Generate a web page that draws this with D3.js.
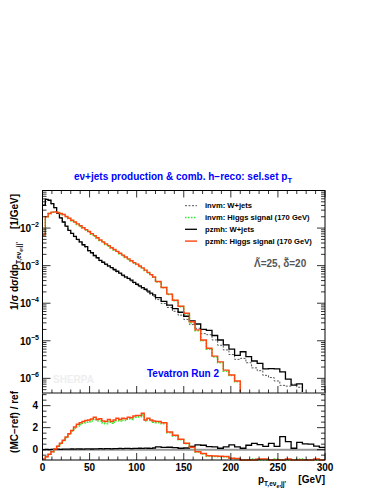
<!DOCTYPE html>
<html><head><meta charset="utf-8">
<script src="https://cdn.jsdelivr.net/npm/d3@7"></script>
<style>html,body{margin:0;padding:0;background:#fff;} svg{display:block;font-family:"Liberation Sans",Arial,Helvetica,sans-serif;font-weight:bold;}</style>
</head><body><svg id="c" width="382" height="494"></svg>
<script>
// ---- data (bin edges in GeV) ----
const binEdges = [0,3,6,9,12,15,18,21,24,27,30,33,36,39,42,45,48,51,54,57,60,63,66,69,72,75,78,81,84,87,90,93,96,99,102,105,108,111,114,117,120,
  126,132,138,144,150,156,162,168,174,180,186,192,198,204,210,216,222,228,234,240,246,252,258,264,270,276,282,288,294,300];

const invmWjets = [4.0e-2,5.7e-2,5.5e-2,4.4e-2,3.45e-2,2.5e-2,1.85e-2,1.43e-2,1.1e-2,8.6e-3,7.1e-3,5.9e-3,4.9e-3,4.2e-3,3.55e-3,3.1e-3,2.45e-3,2.15e-3,1.82e-3,1.58e-3,
  1.35e-3,1.2e-3,1.07e-3,9.5e-4,8.6e-4,7.6e-4,6.8e-4,6.1e-4,5.4e-4,4.8e-4,4.4e-4,3.9e-4,3.45e-4,3.05e-4,2.75e-4,2.45e-4,2.2e-4,1.95e-4,1.72e-4,1.52e-4,
  1.25e-4,9.8e-5,7.7e-5,6.1e-5,4.8e-5,3.7e-5,2.7e-5,2.15e-5,1.55e-5,1.45e-5,1.05e-5,7.6e-6,5.7e-6,4.3e-6,3.2e-6,3.4e-6,2.6e-6,1.9e-6,1.6e-6,1.2e-6,
  1.05e-6,8.5e-7,6.5e-7,6.2e-7,7.0e-7,5.8e-7,0,0,0,0];

const invmHiggs = [6.4e-3,2.0e-2,2.42e-2,2.64e-2,2.68e-2,2.58e-2,2.43e-2,2.26e-2,2.0e-2,1.78e-2,1.58e-2,1.41e-2,1.25e-2,1.11e-2,9.9e-3,8.8e-3,7.8e-3,6.9e-3,6.1e-3,5.3e-3,
  4.65e-3,4.15e-3,3.65e-3,3.3e-3,2.9e-3,2.6e-3,2.33e-3,2.07e-3,1.84e-3,1.65e-3,1.46e-3,1.31e-3,1.16e-3,1.07e-3,9.5e-4,8.4e-4,7.4e-4,6.4e-4,5.6e-4,4.9e-4,
  3.7e-4,2.6e-4,1.72e-4,1.17e-4,8.1e-5,5.2e-5,3.0e-5,1.85e-5,1.0e-5,6.0e-6,3.7e-6,2.6e-6,1.55e-6,1.2e-6,8.2e-7,0,0,0,0,0,
  0,0,0,0,0,0,0,0,0,0];

const pzmhWjets = [4.1e-2,5.8e-2,5.5e-2,4.5e-2,3.5e-2,2.5e-2,1.86e-2,1.45e-2,1.12e-2,8.7e-3,7.2e-3,6.0e-3,5.0e-3,4.3e-3,3.6e-3,3.2e-3,2.5e-3,2.2e-3,1.86e-3,1.62e-3,
  1.38e-3,1.23e-3,1.1e-3,9.8e-4,8.9e-4,7.9e-4,7.1e-4,6.3e-4,5.6e-4,5.0e-4,4.6e-4,4.1e-4,3.6e-4,3.2e-4,2.9e-4,2.6e-4,2.35e-4,2.1e-4,1.86e-4,1.66e-4,
  1.41e-4,1.12e-4,8.9e-5,7.2e-5,5.75e-5,4.5e-5,3.4e-5,2.8e-5,2.0e-5,1.9e-5,1.38e-5,1.05e-5,7.8e-6,6.0e-6,4.1e-6,5.1e-6,3.8e-6,2.9e-6,2.5e-6,1.78e-6,
  1.82e-6,1.78e-6,1.48e-6,9.5e-7,6.6e-7,7.1e-7,0,0,0,0];

const pzmhHiggs = [6.5e-3,2.0e-2,2.45e-2,2.66e-2,2.69e-2,2.6e-2,2.45e-2,2.29e-2,2.04e-2,1.82e-2,1.62e-2,1.45e-2,1.29e-2,1.15e-2,1.02e-2,9.1e-3,8.1e-3,7.1e-3,6.3e-3,5.5e-3,
  4.8e-3,4.3e-3,3.8e-3,3.4e-3,3.0e-3,2.7e-3,2.4e-3,2.14e-3,1.9e-3,1.7e-3,1.51e-3,1.35e-3,1.2e-3,1.1e-3,9.8e-4,8.7e-4,7.6e-4,6.6e-4,5.75e-4,5.0e-4,
  3.8e-4,2.63e-4,1.74e-4,1.2e-4,8.3e-5,5.4e-5,3.2e-5,1.95e-5,1.05e-5,6.3e-6,3.9e-6,2.75e-6,1.66e-6,1.23e-6,8.5e-7,0,0,0,0,0,
  0,0,0,0,0,0,0,0,0,0];

// ratio panel: (MC-ref)/ref, ref = invm W+jets
const ratioInvmHiggs = [-0.85,-0.65,-0.42,-0.2,0.05,0.3,0.55,0.82,1.1,1.4,1.7,1.95,2.15,2.3,2.4,2.5,2.55,2.6,2.75,2.6,
  2.6,2.45,2.35,2.55,2.4,2.5,2.65,2.6,2.7,2.65,2.8,2.75,2.9,2.95,3.0,3.15,2.6,2.75,2.6,2.5,
  2.45,2.35,1.55,1.25,0.9,0.55,0.2,-0.2,-0.4,-0.6,-0.62,-0.65,-0.65,-0.8,-0.82,-1,-1,-0.85,-1,-1,
  -1,-0.85,-1,-1,-1,-0.85,-1,-1,-1,-1];
const ratioPzmhWjets = [0.0,0.02,0.0,0.03,0.02,0.04,0.03,0.05,0.04,0.05,0.06,0.05,0.07,0.06,0.05,0.08,0.07,0.06,0.08,0.07,
  0.09,0.08,0.1,0.09,0.08,0.1,0.09,0.11,0.1,0.12,0.11,0.1,0.12,0.11,0.13,0.12,0.14,0.13,0.12,0.15,
  0.25,0.2,0.22,0.18,0.13,0.15,0.3,0.43,0.4,0.27,0.25,0.13,0.25,0.43,0.25,0.13,0.4,0.58,0.45,0.3,
  0.58,0.3,1.18,0.73,0.13,0.67,0.52,0.5,0.33,0.2];
const ratioPzmhHiggs = [-0.85,-0.65,-0.42,-0.2,0.05,0.3,0.58,0.85,1.15,1.45,1.75,2.05,2.3,2.45,2.55,2.65,2.7,2.78,2.95,2.75,
  2.8,2.6,2.55,2.75,2.55,2.7,2.85,2.75,2.85,2.8,2.95,2.9,3.05,3.1,3.1,3.3,2.7,2.85,2.7,2.6,
  2.55,2.45,1.6,1.3,0.95,0.58,0.22,-0.18,-0.35,-0.55,-0.58,-0.6,-0.62,-0.78,-0.8,-1,-1,-1,-0.85,-0.85,
  -1,-1,-1,-0.85,-1,-1,-1,-1,-0.85,-1];

const xTickLabels = [0,50,100,150,200,250,300];
const yTickExps = [-2,-3,-4,-5,-6];
const ratioTickLabels = [0,2,4];
const legendLabels = ["invm: W+jets","invm: Higgs signal (170 GeV)","pzmh: W+jets","pzmh: Higgs signal (170 GeV)"];

// ---- layout ----
const svg = d3.select("#c");
const L=42.5, R=325, T=190.5, MB=393, RB=460;
const x = d3.scaleLinear().domain([0,300]).range([L,R]);
const y = d3.scaleLog().domain([Math.pow(10,-6.39),0.1]).range([MB,T]).clamp(true);
const yr = d3.scaleLinear().domain([-0.94,5.15]).range([RB,MB]).clamp(true);

const fy = v => y(v>0?v:1e-12);
const fyr = v => yr(v);
function stepPath(vals, f){
  const pts = vals.map((v,i)=>[x(binEdges[i]), f(v)]);
  pts.push([x(binEdges[vals.length]), f(vals[vals.length-1])]);
  return d3.line().curve(d3.curveStepAfter)(pts);
}
const ORANGE="#ff4411", GREEN="#33ee33";

// main panel series
const styles = [
  {d:invmWjets, stroke:"#555", w:1, dash:"2,1.5"},
  {d:invmHiggs, stroke:GREEN, w:1.6, dash:"1.5,1.5"},
  {d:pzmhWjets, stroke:"#000", w:1.3, dash:null},
  {d:pzmhHiggs, stroke:ORANGE, w:1.4, dash:null}
];
const gMain = svg.append("g");
styles.forEach(s=>{
  gMain.append("path").attr("d",stepPath(s.d,fy)).attr("fill","none")
    .attr("stroke",s.stroke).attr("stroke-width",s.w).attr("stroke-dasharray",s.dash);
});

// ratio panel
svg.append("line").attr("x1",L).attr("x2",R).attr("y1",yr(0)).attr("y2",yr(0)).attr("stroke","#999").attr("stroke-width",2);
const rstyles = [
  {d:ratioInvmHiggs, stroke:GREEN, w:1.6, dash:"1.5,1.5"},
  {d:ratioPzmhWjets, stroke:"#000", w:1.3, dash:null},
  {d:ratioPzmhHiggs, stroke:ORANGE, w:1.5, dash:null}
];
rstyles.forEach(s=>{
  svg.append("path").attr("d",stepPath(s.d,fyr)).attr("fill","none")
    .attr("stroke",s.stroke).attr("stroke-width",s.w).attr("stroke-dasharray",s.dash);
});

// frames
svg.append("rect").attr("x",L).attr("y",T).attr("width",R-L).attr("height",RB-T).attr("fill","none").attr("stroke","#000").attr("stroke-width",1);
svg.append("line").attr("x1",L).attr("x2",R).attr("y1",MB).attr("y2",MB).attr("stroke","#888").attr("stroke-width",2);

// x ticks
const ax = svg.append("g").attr("stroke","#000").attr("stroke-width",0.8);
d3.range(0,301,10).forEach(v=>{
  const major = v%50===0, len = major?7:3.5;
  [[T,1],[MB,-1],[RB,-1]].forEach(([yy,dir])=>{
    ax.append("line").attr("x1",x(v)).attr("x2",x(v)).attr("y1",yy).attr("y2",yy+dir*len);
  });
});
// y ticks main (log)
y.ticks().forEach(v=>{
  const e = Math.log10(v), major = Math.abs(e-Math.round(e))<1e-6, len = major?8:4;
  ax.append("line").attr("x1",L).attr("x2",L+len).attr("y1",y(v)).attr("y2",y(v));
  ax.append("line").attr("x1",R).attr("x2",R-len).attr("y1",y(v)).attr("y2",y(v));
});
// ratio y ticks
d3.range(-0.5,5.01,0.5).forEach(v=>{
  const major = Math.abs(v%2)<1e-6, len = major?8:4;
  ax.append("line").attr("x1",L).attr("x2",L+len).attr("y1",yr(v)).attr("y2",yr(v));
  ax.append("line").attr("x1",R).attr("x2",R-len).attr("y1",yr(v)).attr("y2",yr(v));
});

// tick labels
xTickLabels.forEach(v=>{
  svg.append("text").attr("x",x(v)).attr("y",471).attr("text-anchor","middle").attr("font-size",10).text(v);
});
yTickExps.forEach(e=>{
  const t = svg.append("text").attr("x",39).attr("y",y(Math.pow(10,e))+4).attr("text-anchor","end").attr("font-size",10);
  t.append("tspan").text("10");
  t.append("tspan").attr("dy",-5).attr("font-size",7).text("−"+Math.abs(e));
});
ratioTickLabels.forEach(v=>{
  svg.append("text").attr("x",38).attr("y",yr(v)+3.5).attr("text-anchor","end").attr("font-size",10).text(v);
});

// axis titles
svg.append("text").attr("transform","translate(18,194) rotate(-90)").attr("text-anchor","end").attr("font-size",10).text("[1/GeV]");
const yt = svg.append("text").attr("transform","translate(18,242) rotate(-90)").attr("text-anchor","end").attr("font-size",10);
yt.append("tspan").text("1/σ dσ/dp");
yt.append("tspan").attr("font-size",6.5).attr("dy",3).text("T,eν");
yt.append("tspan").attr("font-size",5).attr("dy",1.5).text("e");
yt.append("tspan").attr("font-size",6.5).attr("dy",-1.5).text(",jj'");

svg.append("text").attr("transform","translate(18,391) rotate(-90)").attr("text-anchor","end").attr("font-size",10).text("(MC−ref) / ref");

svg.append("text").attr("x",325).attr("y",483).attr("text-anchor","end").attr("font-size",10).text("[GeV]");
const xt = svg.append("text").attr("x",258).attr("y",483).attr("font-size",10);
xt.append("tspan").text("p");
xt.append("tspan").attr("font-size",6.5).attr("dy",3).text("T,eν");
xt.append("tspan").attr("font-size",5).attr("dy",1.5).text("e");
xt.append("tspan").attr("font-size",6.5).attr("dy",-1.5).text(",jj'");

// title
const tt = svg.append("text").attr("x",183).attr("y",180).attr("text-anchor","middle").attr("font-size",10).attr("fill","#0000ff");
tt.append("tspan").text("eν+jets production & comb. h−reco: sel.set p");
tt.append("tspan").attr("font-size",7.5).attr("dy",3).text("T");

// legend
styles.forEach((s,i)=>{
  const yy = 205.7 + i*11.8;
  svg.append("line").attr("x1",185).attr("x2",197).attr("y1",yy).attr("y2",yy)
    .attr("stroke",s.stroke).attr("stroke-width",s.w).attr("stroke-dasharray",s.dash);
  svg.append("text").attr("x",205).attr("y",yy+2.7).attr("font-size",7.6).text(legendLabels[i]);
});

svg.append("text").attr("x",254).attr("y",267).attr("font-size",10).attr("fill","#555").text("Λ̃=25, δ̃=20");
svg.append("text").attr("x",147).attr("y",377).attr("font-size",10).attr("fill","#0000ff").text("Tevatron Run 2");
svg.append("text").attr("x",53).attr("y",383).attr("font-size",10).attr("fill","#eeeeee").text("SHERPA");
</script></body></html>
